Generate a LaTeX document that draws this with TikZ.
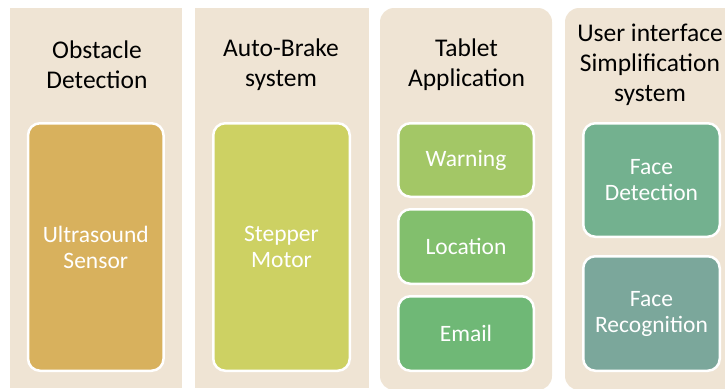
\documentclass[tikz,border=0pt]{standalone}
\usepackage{fontspec}
\setmainfont{Carlito}
\definecolor{panelbg}{HTML}{EFE4D4}
\definecolor{cUltra}{HTML}{D8B15D}
\definecolor{cStep}{HTML}{CDD163}
\definecolor{cWarn}{HTML}{A3C766}
\definecolor{cLoc}{HTML}{82BF6D}
\definecolor{cMail}{HTML}{6FB876}
\definecolor{cFDet}{HTML}{73B18F}
\definecolor{cFRec}{HTML}{7BA79B}
\begin{document}
\begin{tikzpicture}[x=1pt,y=-1pt,
  panel/.style={fill=panelbg,draw=none},
  ttl/.style={align=center,text=black,font=\fontsize{25.5}{30}\selectfont,inner sep=0pt},
  item/.style={draw=white,line width=2.5pt,rounded corners=12pt,text=white,align=center,
    font=\fontsize{23.5}{26}\selectfont,inner sep=0pt}]
\useasboundingbox (0,0) rectangle (725,388);
% panels
\fill[panel] (10,8) rectangle (182,388);
\fill[panel] (195,8) rectangle (369,388);
\fill[panel,rounded corners=14pt] (380,8) rectangle (552,390);
\fill[panel,rounded corners=14pt] (565,8) rectangle (745,390);
% titles
\node[ttl] (t1) at (97,65) {Obstacle\\Detection};
\node[ttl] (t2) at (281,65) {Auto-Brake\\system};
\node[ttl] (t3) at (466.5,65) {Tablet\\Application};
\node[ttl] (t4) at (650,65) {User interface\\Simplification\\system};
% items
\node[item,fill=cUltra,minimum width=135.5pt,minimum height=247.5pt] (us) at (95.8,247) {Ultrasound\\Sensor};
\node[item,fill=cStep,minimum width=136.5pt,minimum height=247.5pt] (sm) at (281.5,247) {Stepper\\Motor};
\node[item,fill=cWarn,minimum width=135.5pt,minimum height=73.5pt] (wa) at (466,160) {Warning};
\node[item,fill=cLoc,minimum width=135.5pt,minimum height=74.5pt] (lo) at (466,246.5) {Location};
\node[item,fill=cMail,minimum width=135.5pt,minimum height=74.5pt] (em) at (466,333.5) {Email};
\node[item,fill=cFDet,minimum width=136.5pt,minimum height=113.5pt] (fd) at (651.5,180) {Face\\Detection};
\node[item,fill=cFRec,minimum width=136.5pt,minimum height=114.5pt] (fr) at (651.5,313.5) {Face\\Recognition};
\end{tikzpicture}
\end{document}
